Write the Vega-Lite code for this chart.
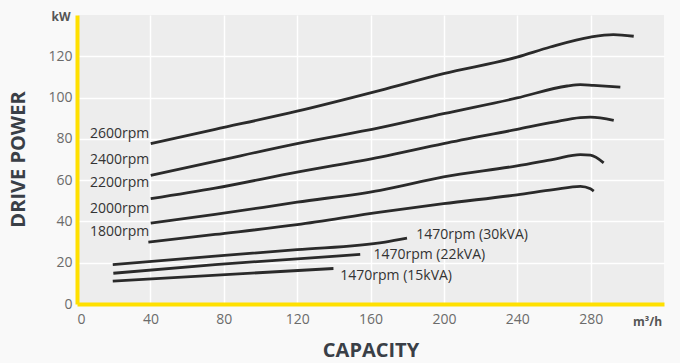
{
  "$schema": "https://vega.github.io/schema/vega-lite/v6.json",
  "width": 587,
  "height": 289,
  "autosize": {"type": "none"},
  "padding": {"left": 77, "top": 15, "right": 16, "bottom": 59},
  "background": "#f9f9f9",
  "config": {
    "view": {"fill": "#ededed", "stroke": null},
    "font": "Open Sans"
  },
  "datasets": {
    "curves": [
      {"series": "2600rpm", "capacity": 40.2, "power": 77.7},
      {"series": "2600rpm", "capacity": 75.3, "power": 84.6},
      {"series": "2600rpm", "capacity": 120, "power": 93.4},
      {"series": "2600rpm", "capacity": 165.3, "power": 103.5},
      {"series": "2600rpm", "capacity": 199.8, "power": 111.6},
      {"series": "2600rpm", "capacity": 239.9, "power": 119.6},
      {"series": "2600rpm", "capacity": 258, "power": 124.5},
      {"series": "2600rpm", "capacity": 279.9, "power": 129.3},
      {"series": "2600rpm", "capacity": 292.4, "power": 130.5},
      {"series": "2600rpm", "capacity": 303.5, "power": 129.7},
      {"series": "2400rpm", "capacity": 40.2, "power": 62.3},
      {"series": "2400rpm", "capacity": 75.3, "power": 69.1},
      {"series": "2400rpm", "capacity": 120, "power": 77.7},
      {"series": "2400rpm", "capacity": 165.3, "power": 85.4},
      {"series": "2400rpm", "capacity": 199.8, "power": 92.2},
      {"series": "2400rpm", "capacity": 239.9, "power": 99.8},
      {"series": "2400rpm", "capacity": 267.2, "power": 105.6},
      {"series": "2400rpm", "capacity": 274.4, "power": 106.3},
      {"series": "2400rpm", "capacity": 281.7, "power": 105.9},
      {"series": "2400rpm", "capacity": 296.2, "power": 105.1},
      {"series": "2200rpm", "capacity": 40.2, "power": 51.0},
      {"series": "2200rpm", "capacity": 75.3, "power": 56.1},
      {"series": "2200rpm", "capacity": 120, "power": 63.9},
      {"series": "2200rpm", "capacity": 165.3, "power": 71.2},
      {"series": "2200rpm", "capacity": 199.8, "power": 77.7},
      {"series": "2200rpm", "capacity": 239.9, "power": 84.6},
      {"series": "2200rpm", "capacity": 259.8, "power": 88.1},
      {"series": "2200rpm", "capacity": 274.4, "power": 90.3},
      {"series": "2200rpm", "capacity": 279.9, "power": 90.5},
      {"series": "2200rpm", "capacity": 292.6, "power": 88.9},
      {"series": "2000rpm", "capacity": 40.2, "power": 39.2},
      {"series": "2000rpm", "capacity": 75.3, "power": 43.4},
      {"series": "2000rpm", "capacity": 120, "power": 49.3},
      {"series": "2000rpm", "capacity": 165.3, "power": 55.1},
      {"series": "2000rpm", "capacity": 199.8, "power": 61.6},
      {"series": "2000rpm", "capacity": 239.9, "power": 66.9},
      {"series": "2000rpm", "capacity": 259.8, "power": 70.1},
      {"series": "2000rpm", "capacity": 274.4, "power": 72.4},
      {"series": "2000rpm", "capacity": 279.9, "power": 72.1},
      {"series": "2000rpm", "capacity": 287.1, "power": 68.4},
      {"series": "1800rpm", "capacity": 38.9, "power": 30.0},
      {"series": "1800rpm", "capacity": 75.3, "power": 33.7},
      {"series": "1800rpm", "capacity": 120, "power": 38.4},
      {"series": "1800rpm", "capacity": 165.3, "power": 44.5},
      {"series": "1800rpm", "capacity": 199.8, "power": 48.6},
      {"series": "1800rpm", "capacity": 239.9, "power": 52.9},
      {"series": "1800rpm", "capacity": 259.8, "power": 55.4},
      {"series": "1800rpm", "capacity": 274.4, "power": 57.0},
      {"series": "1800rpm", "capacity": 279.9, "power": 55.8},
      {"series": "1800rpm", "capacity": 281.7, "power": 54.7},
      {"series": "30kVA", "capacity": 19.5, "power": 19.1},
      {"series": "30kVA", "capacity": 75.3, "power": 23.2},
      {"series": "30kVA", "capacity": 120, "power": 26.3},
      {"series": "30kVA", "capacity": 168, "power": 30.0},
      {"series": "30kVA", "capacity": 179.9, "power": 31.9},
      {"series": "22kVA", "capacity": 19.8, "power": 14.9},
      {"series": "22kVA", "capacity": 75.3, "power": 19.1},
      {"series": "22kVA", "capacity": 120, "power": 21.9},
      {"series": "22kVA", "capacity": 154.4, "power": 24.0},
      {"series": "15kVA", "capacity": 19.5, "power": 11.1},
      {"series": "15kVA", "capacity": 139.8, "power": 17.2}
    ],
    "labels": [
      {"text": "2600rpm", "capacity": 7.1, "power": 82.2},
      {"text": "2400rpm", "capacity": 7.1, "power": 69.9},
      {"text": "2200rpm", "capacity": 7.1, "power": 58.7},
      {"text": "2000rpm", "capacity": 7.1, "power": 46.1},
      {"text": "1800rpm", "capacity": 7.1, "power": 34.8},
      {"text": "1470rpm (30kVA)", "capacity": 184.9, "power": 33.2},
      {"text": "1470rpm (22kVA)", "capacity": 161.6, "power": 23.8},
      {"text": "1470rpm (15kVA)", "capacity": 143.5, "power": 13.8}
    ],
    "units": [
      {"text": "kW", "capacity": -8.7, "power": 139},
      {"text": "m³/h", "capacity": 311, "power": -8.5}
    ]
  },
  "layer": [
    {
      "data": {"name": "curves"},
      "mark": {"type": "line", "interpolate": "monotone", "color": "#2a2a2a", "strokeWidth": 2.8},
      "encoding": {
        "x": {
          "field": "capacity", "type": "quantitative",
          "scale": {"domain": [0, 320], "nice": false, "zero": false},
          "axis": {
            "values": [0, 40, 80, 120, 160, 200, 240, 280],
            "grid": true, "gridColor": "#ffffff", "gridWidth": 1.5,
            "ticks": false,
            "domainColor": "#ffe000", "domainWidth": 4,
            "labelFontSize": 14, "labelColor": "#6b6b6b", "labelPadding": 8,
            "title": "CAPACITY", "titleFontSize": 20, "titleFontWeight": "bold",
            "titleColor": "#3a3f47", "titleY": 46, "titleBaseline": "middle"
          }
        },
        "y": {
          "field": "power", "type": "quantitative",
          "scale": {"domain": [0, 140], "nice": false},
          "axis": {
            "values": [0, 20, 40, 60, 80, 100, 120],
            "grid": true, "gridColor": "#ffffff", "gridWidth": 1.5,
            "ticks": false,
            "domainColor": "#ffe000", "domainWidth": 4,
            "labelFontSize": 14, "labelColor": "#6b6b6b", "labelPadding": 5,
            "title": "DRIVE POWER", "titleFontSize": 20, "titleFontWeight": "bold",
            "titleColor": "#3a3f47", "titleX": -59, "titleY": 144, "titleBaseline": "middle"
          }
        },
        "detail": {"field": "series"}
      }
    },
    {
      "data": {"name": "labels"},
      "mark": {"type": "text", "align": "left", "baseline": "middle", "fontSize": 14, "color": "#333333"},
      "encoding": {
        "x": {"field": "capacity", "type": "quantitative"},
        "y": {"field": "power", "type": "quantitative"},
        "text": {"field": "text"}
      }
    },
    {
      "data": {"name": "units"},
      "mark": {"type": "text", "align": "center", "baseline": "middle", "fontSize": 12, "fontWeight": "bold", "color": "#555555"},
      "encoding": {
        "x": {"field": "capacity", "type": "quantitative"},
        "y": {"field": "power", "type": "quantitative"},
        "text": {"field": "text"}
      }
    }
  ]
}
